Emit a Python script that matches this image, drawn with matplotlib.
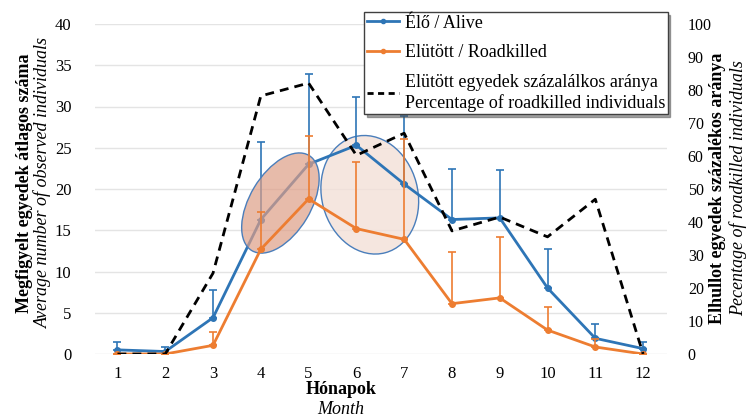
import matplotlib
matplotlib.use("Agg")
import matplotlib.pyplot as plt
from matplotlib.patches import Ellipse
from matplotlib.lines import Line2D
from matplotlib.transforms import Affine2D, ScaledTranslation
import numpy as np

months = [1, 2, 3, 4, 5, 6, 7, 8, 9, 10, 11, 12]
alive = [0.5, 0.3, 4.4, 16.3, 23.0, 25.3, 20.6, 16.3, 16.5, 8.0, 1.9, 0.65]
alive_err = [1.0, 0.5, 3.4, 9.4, 11.0, 5.8, 8.2, 6.1, 5.8, 4.7, 1.7, 0.85]
road = [0, 0, 1.05, 12.7, 18.8, 15.2, 13.9, 6.1, 6.8, 2.9, 0.85, 0]
road_err = [0, 0, 1.65, 4.5, 7.6, 8.1, 12.2, 6.3, 7.4, 2.8, 1.0, 0]
pct = [0, 0, 24.5, 78.2, 82.1, 60.2, 66.9, 37.3, 41.5, 35.5, 46.9, 0]

left_ticks = [0, 5, 10, 15, 20, 25, 30, 35, 40]
right_ticks = [0, 10, 20, 30, 40, 50, 60, 70, 80, 90, 100]

labels = ['Élő / Alive', 'Elütött / Roadkilled',
          'Elütött egyedek százalálkos aránya\nPercentage of roadkilled individuals']

plt.rcParams['font.family'] = ['Liberation Serif', 'DejaVu Serif']

W, H = 748, 418
fig = plt.figure(figsize=(W / 100, H / 100), dpi=100)
ax = fig.add_axes([95 / W, 1 - 354 / H, (667 - 95) / W, (354 - 24) / H])
ax2 = ax.twinx()

blue = '#2E75B6'
orange = '#ED7D31'

ax.errorbar(months, alive, yerr=[np.zeros(len(alive)), alive_err], color=blue,
            lw=2, marker='o', ms=4, elinewidth=1.2, capsize=3, capthick=1.2,
            zorder=2)
ax.errorbar(months, road, yerr=[np.zeros(len(road)), road_err], color=orange,
            lw=2, marker='o', ms=4, elinewidth=1.2, capsize=3, capthick=1.2,
            zorder=3)
ax2.plot(months, pct, color='black', lw=2, ls=(0, (3.2, 2.2)))

ax.set_xlim(0.53, 12.5)
ax.set_ylim(0, 40)
ax2.set_ylim(0, 100)
ax.set_xticks(months)
ax.set_yticks(left_ticks)
ax2.set_yticks(right_ticks)
ax.grid(axis='y', color='#E4E4E4', lw=1)
ax.set_axisbelow(True)
for a in (ax, ax2):
    for s in a.spines.values():
        s.set_visible(False)
    a.tick_params(length=0, labelsize=12)
ax.tick_params(axis='y', pad=17)
ax2.tick_params(axis='y', pad=15, labelsize=11.5)
ax.tick_params(axis='x', pad=9)

# ellipses (annotations) in pixel units centred on data points
def add_ellipse(cx, cy, w, h, angle, fc, alpha, z):
    tr = Affine2D() + ScaledTranslation(cx, cy, ax.transData)
    e = Ellipse((0, 0), w, h, angle=angle, facecolor=fc, alpha=alpha,
                edgecolor='none', zorder=z)
    e.set_transform(tr)
    ax.add_patch(e)
    e2 = Ellipse((0, 0), w, h, angle=angle, facecolor='none',
                 edgecolor='#4A7EBB', lw=1.0, zorder=z + 0.05)
    e2.set_transform(tr)
    ax.add_patch(e2)

add_ellipse(4.41, 18.3, 111, 61, 59, '#DE9E86', 0.7, 2.5)
add_ellipse(6.28, 19.3, 120, 96, 105, '#F3E0D8', 0.8, 1.5)

# axis labels
fig.text(25 / W, 1 - 183 / H, 'Megfigyelt egyedek átlagos száma', rotation=90,
         ha='center', va='center', fontsize=13, fontweight='bold')
fig.text(43 / W, 1 - 183 / H, 'Average number of observed individuals', rotation=90,
         ha='center', va='center', fontsize=13, style='italic')
fig.text(718 / W, 1 - 188 / H, 'Elhullot egyedek százalékos aránya', rotation=90,
         ha='center', va='center', fontsize=13, fontweight='bold')
fig.text(738 / W, 1 - 188 / H, 'Pecentage of roadkilled individuals', rotation=90,
         ha='center', va='center', fontsize=13, style='italic')
fig.text(341 / W, 1 - 390 / H, 'Hónapok', ha='center', va='center',
         fontsize=13, fontweight='bold')
fig.text(341 / W, 1 - 409 / H, 'Month', ha='center', va='center',
         fontsize=13, style='italic')

handles = [Line2D([], [], color=blue, lw=2, marker='o', ms=3),
           Line2D([], [], color=orange, lw=2, marker='o', ms=3),
           Line2D([], [], color='black', lw=2, ls=(0, (2.2, 1.6)))]
leg = fig.legend(handles, labels, loc='upper left',
                 bbox_to_anchor=(364 / W, 1 - 12 / H), bbox_transform=fig.transFigure,
                 borderaxespad=0, fontsize=13, handlelength=1.8, handletextpad=0.3,
                 labelspacing=0.7, borderpad=0.15, fancybox=False, shadow=True,
                 edgecolor='#404040', framealpha=1)
leg.get_frame().set_linewidth(1.0)
leg.set_zorder(10)

fig.savefig('out.png', dpi=100)
